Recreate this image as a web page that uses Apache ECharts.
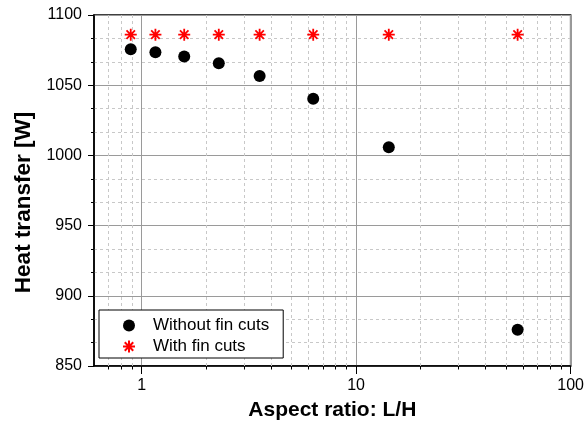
<!DOCTYPE html>
<html><head><meta charset="utf-8">
<script src="https://cdn.jsdelivr.net/npm/echarts@6/dist/echarts.min.js"></script>
<style>html,body{margin:0;padding:0;background:#fff}#c{width:587px;height:426px}</style>
</head><body><div id="c"></div>
<script>
const aspectRatio = [0.89, 1.16, 1.58, 2.29, 3.55, 6.31, 14.2, 56.6];
const heatWithout = [1075.6, 1073.5, 1070.4, 1065.7, 1056.5, 1040.3, 1005.8, 875.8];
const heatWith = [1086, 1086, 1086, 1086, 1086, 1086, 1086, 1086];
const xMajorTicks = [1, 10, 100];
const xMinorTicks = [0.7, 0.8, 0.9, 2, 3, 4, 5, 6, 7, 8, 9, 20, 30, 40, 50, 60, 70, 80, 90];
const seriesNames = ['Without fin cuts', 'With fin cuts'];
const xAxisTitle = 'Aspect ratio: L/H';
const yAxisTitle = 'Heat transfer [W]';

const FONT = 'Liberation Sans, Arial, sans-serif';
const starPath = 'path://M0,-6L0,6M-6,0L6,0M-4.24,-4.24L4.24,4.24M-4.24,4.24L4.24,-4.24';

const chart = echarts.init(document.getElementById('c'), null, {renderer: 'canvas'});
const isPow10 = v => Math.abs(Math.log10(v) - Math.round(Math.log10(v))) < 1e-6;

chart.setOption({
  animation: false,
  backgroundColor: '#fff',
  grid: {left: 94, right: 14, top: 15, bottom: 59, show: true, borderColor: '#000', borderWidth: 1.5, containLabel: false},
  legend: {
    orient: 'vertical', left: 99, top: 310,
    padding: [7, 14, 3, 23],
    itemWidth: 38, itemHeight: 12, itemGap: 4,
    borderColor: '#000', borderWidth: 1, backgroundColor: '#fff',
    textStyle: {fontFamily: FONT, fontSize: 17, color: '#000', lineHeight: 17},
    data: seriesNames
  },
  xAxis: [{
    type: 'log', logBase: 10, min: 0.6, max: 100,
    axisLine: {show: true, lineStyle: {color: '#000', width: 1.5}},
    axisTick: {show: true, inside: false, length: 8, customValues: xMajorTicks, lineStyle: {color: '#000', width: 1}},
    axisLabel: {show: true, customValues: xMajorTicks, margin: 12, fontFamily: FONT, fontSize: 16, color: '#000',
      formatter: v => isPow10(v) ? String(Math.round(v)) : ''},
    splitLine: {show: true, lineStyle: {color: '#9a9a9a', width: 1, type: 'solid'}},
    name: xAxisTitle, nameLocation: 'middle', nameGap: 34,
    nameTextStyle: {fontFamily: FONT, fontSize: 21, fontWeight: 'bold', color: '#000'}
  }, {
    type: 'log', logBase: 10, min: 0.6, max: 100, position: 'bottom', gridIndex: 0,
    axisLine: {show: false},
    axisTick: {show: true, inside: false, length: 3.5, customValues: xMinorTicks, lineStyle: {color: '#000', width: 1}},
    axisLabel: {show: false},
    splitLine: {show: false}
  }],
  yAxis: {
    type: 'value', min: 850, max: 1100, interval: 50,
    axisLine: {show: true, lineStyle: {color: '#000', width: 1.5}},
    axisTick: {show: true, inside: false, length: 6, lineStyle: {color: '#000', width: 1}},
    minorTick: {show: true, splitNumber: 3, length: 3, lineStyle: {color: '#000', width: 1}},
    minorSplitLine: {show: true, lineStyle: {color: '#c8c8c8', width: 1, type: [3, 3]}},
    splitLine: {show: true, lineStyle: {color: '#9a9a9a', width: 1, type: 'solid'}},
    axisLabel: {margin: 12, fontFamily: FONT, fontSize: 16, color: '#000', formatter: v => String(v)},
    name: yAxisTitle, nameLocation: 'middle', nameGap: 59, nameRotate: 90,
    nameTextStyle: {fontFamily: FONT, fontSize: 22.5, fontWeight: 'bold', color: '#000', padding: [0, 24, 0, 0]}
  },
  series: [{
    name: 'minor-grid', type: 'scatter', data: [], z: 1, silent: true, legendHoverLink: false,
    markLine: {
      silent: true, symbol: 'none', z: 1, animation: false,
      label: {show: false},
      lineStyle: {color: '#c8c8c8', width: 1, type: [3, 3]},
      emphasis: {disabled: true},
      data: xMinorTicks.map(v => ({xAxis: v}))
    }
  }, {
    name: seriesNames[0], type: 'scatter', z: 4,
    symbol: 'circle', symbolSize: 12,
    itemStyle: {color: '#000', opacity: 1},
    data: aspectRatio.map((x, i) => [x, heatWithout[i]])
  }, {
    name: seriesNames[1], type: 'scatter', z: 4,
    symbol: starPath, symbolSize: 12,
    itemStyle: {color: '#ff0000', borderColor: '#ff0000', borderWidth: 1.8, opacity: 1},
    data: aspectRatio.map((x, i) => [x, heatWith[i]])
  }]
});
</script>
</body></html>
